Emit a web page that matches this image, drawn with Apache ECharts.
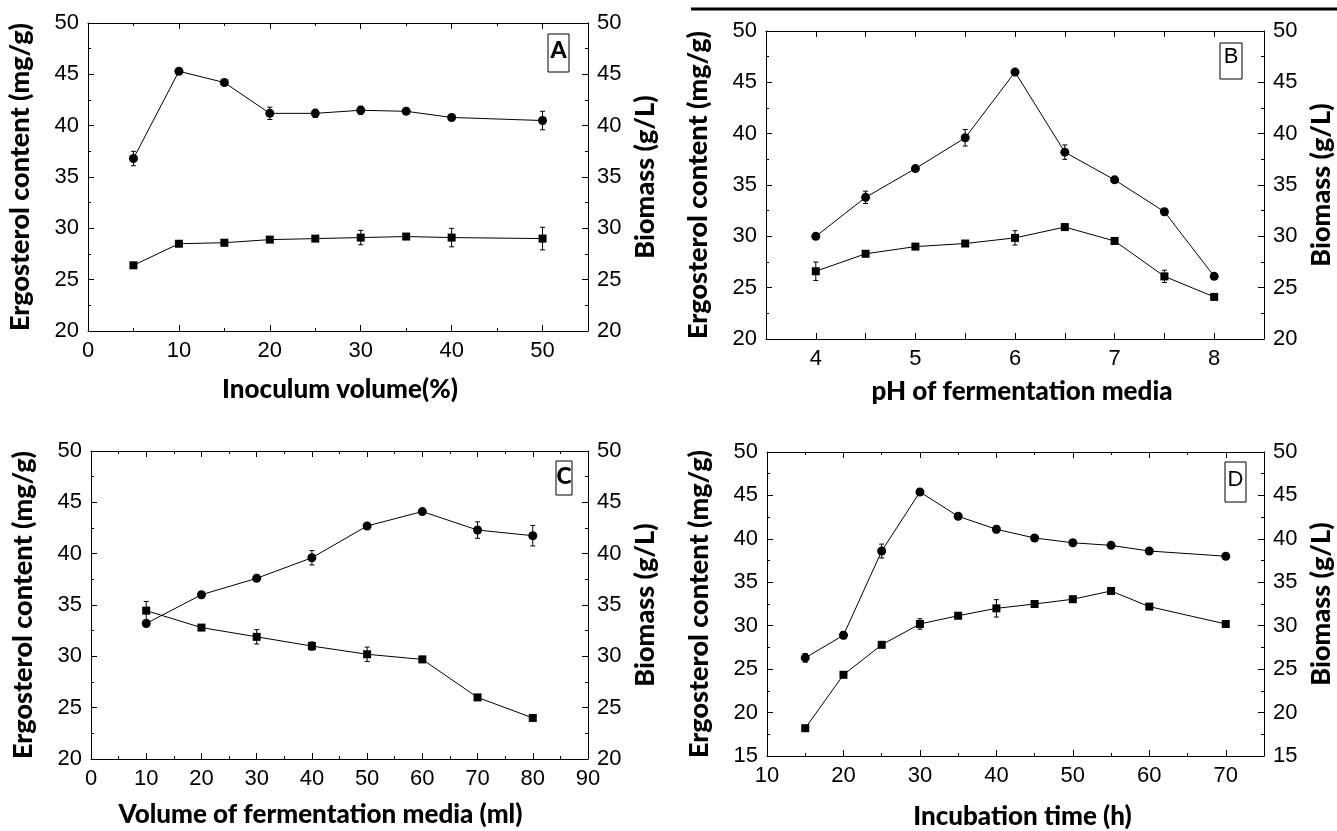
<!DOCTYPE html>
<html>
<head>
<meta charset="utf-8">
<title>Ergosterol and biomass</title>
<script src="https://cdn.jsdelivr.net/npm/echarts@6/dist/echarts.min.js"></script>
<style>
  html, body { margin: 0; padding: 0; background: #fff; }
  #chart { width: 1337px; height: 831px; }
</style>
</head>
<body>
<div id="chart"></div>
<script>
// panel A - inoculum volume
var xA = [5, 10, 15, 20, 25, 30, 35, 40, 50];
var ergA = [36.8, 45.3, 44.2, 41.2, 41.2, 41.5, 41.4, 40.8, 40.5];
var ergErrA = [0.7, 0.2, 0.2, 0.6, 0.4, 0.4, 0.2, 0.2, 0.9];
var bioA = [26.4, 28.5, 28.6, 28.9, 29.0, 29.1, 29.2, 29.1, 29.0];
var bioErrA = [0.2, 0.2, 0.3, 0.2, 0.2, 0.7, 0.2, 0.9, 1.1];

// panel B - pH
var xB = [4, 4.5, 5, 5.5, 6, 6.5, 7, 7.5, 8];
var ergB = [30.0, 33.8, 36.6, 39.6, 46.0, 38.2, 35.5, 32.4, 26.1];
var ergErrB = [0.2, 0.6, 0.2, 0.8, 0.2, 0.7, 0.2, 0.2, 0.2];
var bioB = [26.6, 28.3, 29.0, 29.3, 29.85, 30.9, 29.55, 26.1, 24.1];
var bioErrB = [0.9, 0.2, 0.2, 0.2, 0.7, 0.3, 0.2, 0.6, 0.2];

// panel C - volume of media
var xC = [10, 20, 30, 40, 50, 60, 70, 80];
var ergC = [33.2, 36.0, 37.6, 39.6, 42.7, 44.1, 42.3, 41.75];
var ergErrC = [0.2, 0.2, 0.3, 0.7, 0.2, 0.2, 0.8, 1.0];
var bioC = [34.45, 32.8, 31.9, 31.0, 30.2, 29.7, 26.0, 24.0];
var bioErrC = [0.9, 0.2, 0.7, 0.4, 0.7, 0.3, 0.2, 0.2];

// panel D - incubation time
var xD = [15, 20, 25, 30, 35, 40, 45, 50, 55, 60, 70];
var ergD = [26.3, 28.9, 38.6, 45.4, 42.6, 41.1, 40.1, 39.55, 39.25, 38.6, 38.0];
var ergErrD = [0.5, 0.4, 0.8, 0.2, 0.2, 0.4, 0.2, 0.2, 0.2, 0.2, 0.3];
var bioD = [18.2, 24.35, 27.8, 30.2, 31.15, 32.0, 32.5, 33.05, 34.0, 32.2, 30.2];
var bioErrD = [0.2, 0.3, 0.2, 0.6, 0.2, 1.0, 0.3, 0.2, 0.2, 0.3, 0.2];

var xNames = ["Inoculum volume(%)", "pH of fermentation media",
  "Volume of fermentation media (ml)", "Incubation time (h)"];
var yLeftName = "Ergosterol content (mg/g)";
var yRightName = "Biomass (g/L)";
var panelLetters = ["A", "B", "C", "D"];

var tickFont = "Liberation Sans, Arial, sans-serif";
var titleFont = "Lato, Open Sans, sans-serif";

function xAxisPair(gi, min, max, interval, minor, gap, pad, keep) {
  var fmt = function (v) { return keep(v) ? String(v) : ""; };
  var common = {
    type: "value", gridIndex: gi, min: min, max: max, interval: interval,
    splitLine: { show: false },
    axisLine: { show: true, onZero: false, lineStyle: { color: "#000", width: 1 } },
    axisTick: { show: true, inside: true, length: 6, lineStyle: { color: "#000" } },
    minorTick: { show: minor, splitNumber: 2, length: 3, lineStyle: { color: "#000" } }
  };
  var bottom = Object.assign({}, common, {
    position: "bottom",
    name: xNames[gi], nameLocation: "middle", nameGap: gap,
    nameTextStyle: { fontFamily: titleFont, fontWeight: 900, fontSize: 26, color: "#000", padding: pad },
    axisLabel: { show: true, margin: 9, formatter: fmt, fontFamily: tickFont, fontSize: 22, color: "#000" }
  });
  var top = Object.assign({}, common, { position: "top", axisLabel: { show: false } });
  return [bottom, top];
}

function yAxisPair(gi, min) {
  var common = {
    type: "value", gridIndex: gi, min: min, max: 50, interval: 5,
    splitLine: { show: false },
    axisLine: { show: true, onZero: false, lineStyle: { color: "#000", width: 1 } },
    axisTick: { show: true, inside: true, length: 6, lineStyle: { color: "#000" } },
    minorTick: { show: true, splitNumber: 2, length: 3, lineStyle: { color: "#000" } },
    axisLabel: { show: true, margin: 9, fontFamily: tickFont, fontSize: 22, color: "#000" },
    nameLocation: "middle", nameRotate: 90,
    nameTextStyle: { fontFamily: titleFont, fontWeight: 900, fontSize: 27, color: "#000" }
  };
  var left = Object.assign({}, common, { position: "left", name: yLeftName, nameGap: 54 });
  var right = Object.assign({}, common, { position: "right", name: yRightName, nameGap: 44 });
  return [left, right];
}

function lineSeries(gi, yi, xs, ys, symbol, size) {
  return {
    type: "line", xAxisIndex: gi * 2, yAxisIndex: gi * 2 + yi,
    data: xs.map(function (x, i) { return [x, ys[i]]; }),
    symbol: symbol, symbolSize: size, showSymbol: true,
    itemStyle: { color: "#000" },
    lineStyle: { color: "#000", width: 1 },
    z: 3
  };
}

function errorSeries(gi, yi, xs, ys, errs) {
  return {
    type: "custom", xAxisIndex: gi * 2, yAxisIndex: gi * 2 + yi,
    data: xs.map(function (x, i) { return [x, ys[i], errs[i]]; }),
    encode: { x: 0, y: 1 },
    z: 2,
    renderItem: function (params, api) {
      var x = api.value(0), y = api.value(1), e = api.value(2);
      var hi = api.coord([x, y + e]);
      var lo = api.coord([x, y - e]);
      var st = { stroke: "#000", lineWidth: 1 };
      return {
        type: "group",
        children: [
          { type: "line", shape: { x1: hi[0], y1: hi[1], x2: lo[0], y2: lo[1] }, style: st },
          { type: "line", shape: { x1: hi[0] - 2.5, y1: hi[1], x2: hi[0] + 2.5, y2: hi[1] }, style: st },
          { type: "line", shape: { x1: lo[0] - 2.5, y1: lo[1], x2: lo[0] + 2.5, y2: lo[1] }, style: st }
        ]
      };
    }
  };
}

// framed panel letter
function letterBox(x, y, w, h, ty, letter, bold) {
  return [
    { type: "rect", shape: { x: x, y: y, width: w, height: h },
      style: { fill: "none", stroke: "#000", lineWidth: 1 } },
    { type: "text", x: x + w / 2, y: ty,
      style: { text: letter, fill: "#000", align: "center", verticalAlign: "top",
        fontSize: bold ? 23 : 22, fontWeight: bold ? 900 : "normal",
        fontFamily: bold ? titleFont : tickFont } }
  ];
}

var grids = [
  { left: 88, top: 23, width: 500, height: 308 },
  { left: 766, top: 31, width: 498, height: 308 },
  { left: 91, top: 451, width: 497, height: 308 },
  { left: 767, top: 452, width: 497, height: 304 }
];

var isInt = function (v) { return Math.abs(v - Math.round(v)) < 1e-9; };
var byTen = function (v) { return v % 10 === 0; };
var xAxes = []
  .concat(xAxisPair(0, 0, 55, 10, true, 46, [0, 0, 0, 4], byTen))
  .concat(xAxisPair(1, 3.5, 8.5, 0.5, false, 40, [0, 0, 0, 14], isInt))
  .concat(xAxisPair(2, 0, 90, 10, true, 43, [0, 38, 0, 0], byTen))
  .concat(xAxisPair(3, 10, 75, 10, true, 48, [0, 0, 0, 14], byTen));

var yAxes = []
  .concat(yAxisPair(0, 20))
  .concat(yAxisPair(1, 20))
  .concat(yAxisPair(2, 20))
  .concat(yAxisPair(3, 15));

var panels = [
  [xA, ergA, ergErrA, bioA, bioErrA],
  [xB, ergB, ergErrB, bioB, bioErrB],
  [xC, ergC, ergErrC, bioC, bioErrC],
  [xD, ergD, ergErrD, bioD, bioErrD]
];

var series = [];
panels.forEach(function (p, gi) {
  series.push(errorSeries(gi, 0, p[0], p[1], p[2]));
  series.push(errorSeries(gi, 1, p[0], p[3], p[4]));
  series.push(lineSeries(gi, 0, p[0], p[1], "circle", 9));
  series.push(lineSeries(gi, 1, p[0], p[3], "rect", 8));
});

var graphic = [
  { type: "line", shape: { x1: 691, y1: 9, x2: 1337, y2: 9 },
    style: { stroke: "#000", lineWidth: 3 } }
]
  .concat(letterBox(548, 34, 21, 38, 39, panelLetters[0], true))
  .concat(letterBox(1220, 43, 22, 36, 46, panelLetters[1], false))
  .concat(letterBox(556, 461, 16, 34, 465, panelLetters[2], true))
  .concat(letterBox(1225, 462, 21, 40, 469, panelLetters[3], false));

var myChart = echarts.init(document.getElementById("chart"));
myChart.setOption({
  animation: false,
  backgroundColor: "#fff",
  grid: grids,
  xAxis: xAxes,
  yAxis: yAxes,
  series: series,
  graphic: graphic
});
</script>
</body>
</html>
